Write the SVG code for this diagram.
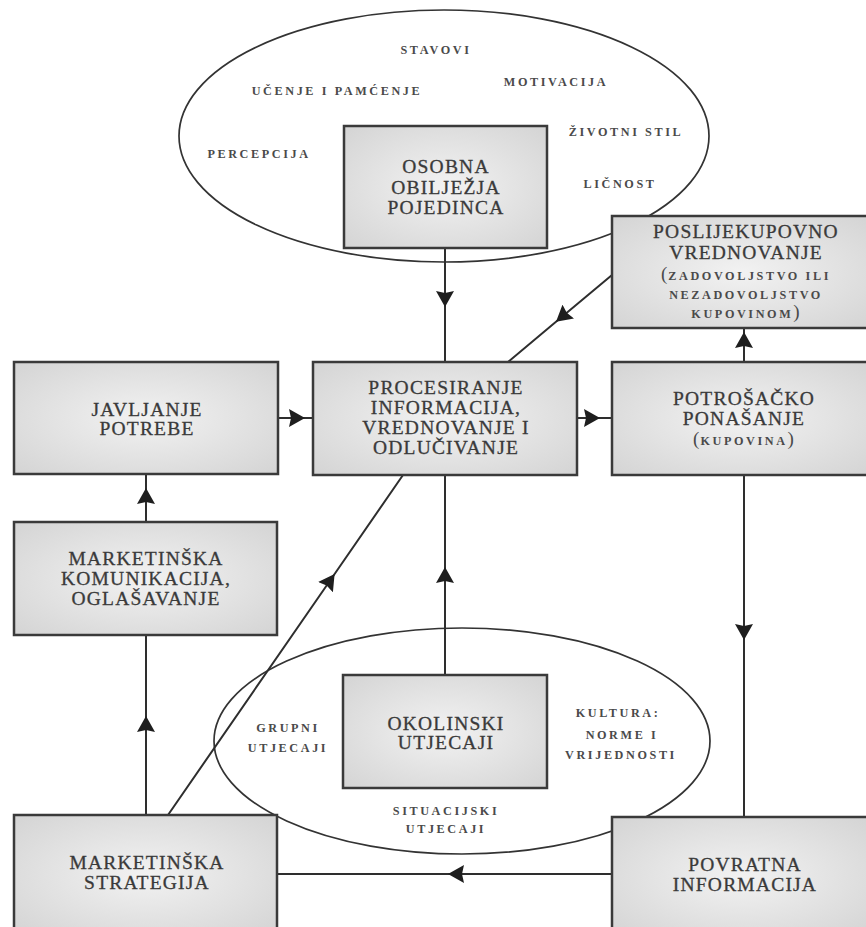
<svg xmlns="http://www.w3.org/2000/svg" width="866" height="927" viewBox="0 0 866 927">
<style>
.box{fill:url(#g);stroke:#3a3a3a;stroke-width:2.5}
.ell{fill:#fff;stroke:#333;stroke-width:1.7}
.ln{fill:none;stroke:#2e2e2e;stroke-width:2;marker-mid:url(#arr)}
.t{font-family:"Liberation Serif",serif;font-size:19.5px;letter-spacing:1.2px;fill:#3a3a3a;stroke:#3a3a3a;stroke-width:0.3;text-anchor:middle}
.s{font-family:"Liberation Serif",serif;font-size:12.2px;font-weight:bold;letter-spacing:2.6px;fill:#4a4a4a;text-anchor:middle}
.p{font-size:19px;font-weight:normal;letter-spacing:1px}
</style>
<defs>
<radialGradient id="g" cx="0.5" cy="0.5" r="0.7">
<stop offset="0" stop-color="#f2f2f2"/>
<stop offset="1" stop-color="#d4d4d4"/>
</radialGradient>
<marker id="arr" viewBox="0 0 16 18" refX="16" refY="9" markerWidth="16" markerHeight="18" markerUnits="userSpaceOnUse" orient="auto">
<path d="M0,0 L16,9 L0,18 L2,9 Z" fill="#1e1e1e"/>
</marker>
</defs>
<rect width="866" height="927" fill="#fff"/>

<g id="personal-ellipse">
<ellipse class="ell" cx="444" cy="136" rx="265" ry="126"/>
<text class="s" x="436" y="54">STAVOVI</text>
<text class="s" x="337" y="95">UČENJE I PAMĆENJE</text>
<text class="s" x="556" y="86">MOTIVACIJA</text>
<text class="s" x="626" y="136">ŽIVOTNI STIL</text>
<text class="s" x="259" y="158">PERCEPCIJA</text>
<text class="s" x="620" y="188">LIČNOST</text>
</g>

<g id="environment-ellipse">
<ellipse class="ell" cx="462" cy="741" rx="248" ry="113"/>
<text class="s" x="288" y="732">GRUPNI</text>
<text class="s" x="288" y="752">UTJECAJI</text>
<text class="s" x="618" y="717">KULTURA:</text>
<text class="s" x="622" y="739">NORME I</text>
<text class="s" x="621" y="759">VRIJEDNOSTI</text>
<text class="s" x="446" y="815">SITUACIJSKI</text>
<text class="s" x="446" y="833">UTJECAJI</text>
</g>

<g id="connectors">
<path class="ln" d="M445,248 L445,307 L445,362"/>
<path class="ln" d="M278,418 L305,418 L313,418"/>
<path class="ln" d="M577,418 L600,418 L612,418"/>
<path class="ln" d="M744,362 L744,332 L744,328"/>
<path class="ln" d="M612,275 L556,321.8 L508,362"/>
<path class="ln" d="M744,475 L744,640 L744,817"/>
<path class="ln" d="M612,874 L448,874 L277,874"/>
<path class="ln" d="M146,815 L146,716 L146,635"/>
<path class="ln" d="M146,522 L146,488 L146,474"/>
<path class="ln" d="M445,675 L445,567 L445,475"/>
<path class="ln" d="M168,815 L334.6,574 L403,475"/>
</g>

<g id="osobna">
<rect class="box" x="344" y="126" width="203" height="122"/>
<text class="t" x="446" y="173">OSOBNA</text>
<text class="t" x="446" y="194">OBILJEŽJA</text>
<text class="t" x="446" y="214">POJEDINCA</text>
</g>

<g id="poslijekupovno">
<rect class="box" x="612" y="216" width="258" height="112"/>
<text class="t" x="746" y="238">POSLIJEKUPOVNO</text>
<text class="t" x="746" y="259">VREDNOVANJE</text>
<text class="s" x="746" y="280"><tspan class="p">(</tspan>ZADOVOLJSTVO ILI</text>
<text class="s" x="746" y="299">NEZADOVOLJSTVO</text>
<text class="s" x="746" y="318">KUPOVINOM<tspan class="p">)</tspan></text>
</g>

<g id="javljanje">
<rect class="box" x="14" y="362" width="264" height="112"/>
<text class="t" x="147" y="416">JAVLJANJE</text>
<text class="t" x="147" y="435">POTREBE</text>
</g>

<g id="procesiranje">
<rect class="box" x="313" y="362" width="264" height="113"/>
<text class="t" x="446" y="394">PROCESIRANJE</text>
<text class="t" x="446" y="414">INFORMACIJA,</text>
<text class="t" x="446" y="434">VREDNOVANJE I</text>
<text class="t" x="446" y="454">ODLUČIVANJE</text>
</g>

<g id="potrosacko">
<rect class="box" x="612" y="362" width="258" height="113"/>
<text class="t" x="744" y="405">POTROŠAČKO</text>
<text class="t" x="744" y="425">PONAŠANJE</text>
<text class="s" x="744" y="445"><tspan class="p">(</tspan>KUPOVINA<tspan class="p">)</tspan></text>
</g>

<g id="komunikacija">
<rect class="box" x="14" y="522" width="263" height="113"/>
<text class="t" x="146" y="565">MARKETINŠKA</text>
<text class="t" x="146" y="585">KOMUNIKACIJA,</text>
<text class="t" x="146" y="605">OGLAŠAVANJE</text>
</g>

<g id="okolinski">
<rect class="box" x="343" y="675" width="204" height="113"/>
<text class="t" x="446" y="730">OKOLINSKI</text>
<text class="t" x="446" y="749">UTJECAJI</text>
</g>

<g id="strategija">
<rect class="box" x="14" y="815" width="263" height="120"/>
<text class="t" x="147" y="869">MARKETINŠKA</text>
<text class="t" x="147" y="889">STRATEGIJA</text>
</g>

<g id="povratna">
<rect class="box" x="612" y="817" width="258" height="120"/>
<text class="t" x="745" y="871">POVRATNA</text>
<text class="t" x="745" y="891">INFORMACIJA</text>
</g>
</svg>
